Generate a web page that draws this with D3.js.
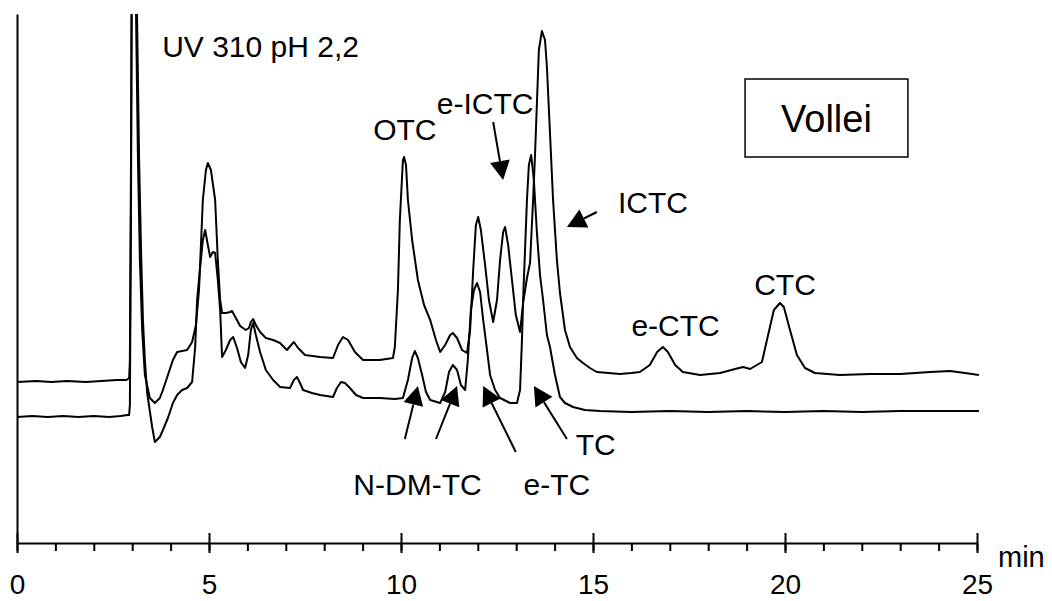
<!DOCTYPE html>
<html>
<head>
<meta charset="utf-8">
<script src="https://cdn.jsdelivr.net/npm/d3@7"></script>
<style>
  body { margin: 0; background: #fff; }
  svg { display: block; }
  text { font-family: "Liberation Sans", Arial, sans-serif; fill: #000; }
</style>
</head>
<body>
<div id="chart"></div>
<script>
// retention time (min), signal (arbitrary units)
const upperTrace = [
  [0.00,161],[0.5,162],[0.9,161],[1.3,162],[1.8,161],[2.2,162],[2.6,163],[2.85,163],
  [2.92,165],[2.94,183],[2.97,393],[2.99,593],[3.07,593],[3.10,529],[3.15,383],[3.20,283],
  [3.26,213],[3.33,168],[3.46,145],[3.59,140],[3.72,145],[3.80,153],[3.93,168],[4.06,183],
  [4.17,191],[4.30,192],[4.43,193],[4.56,201],[4.66,218],[4.74,253],[4.84,343],[4.92,373],
  [4.97,380],[5.05,373],[5.16,343],[5.23,283],[5.29,243],[5.34,230],[5.44,230],[5.55,231],
  [5.60,232],[5.70,225],[5.81,217],[5.96,213],[6.04,215],[6.09,221],[6.15,224],[6.22,218],
  [6.33,211],[6.48,205],[6.67,203],[6.85,200],[7.03,193],[7.14,198],[7.21,201],[7.32,195],
  [7.50,188],[7.89,186],[8.23,185],[8.36,198],[8.49,206],[8.62,203],[8.80,191],[9.01,183],
  [9.45,183],[9.79,185],[9.84,196],[9.92,253],[9.97,323],[10.05,383],[10.08,386],[10.13,378],
  [10.18,343],[10.29,303],[10.44,263],[10.60,238],[10.76,223],[10.91,203],[11.02,191],
  [11.15,198],[11.28,208],[11.35,210],[11.46,205],[11.59,193],[11.72,190],[11.80,213],
  [11.88,273],[11.95,318],[12.01,326],[12.08,313],[12.19,278],[12.29,243],[12.40,221],
  [12.50,243],[12.58,283],[12.66,311],[12.71,316],[12.79,298],[12.89,263],[12.99,228],
  [13.10,211],[13.18,240],[13.28,265],[13.36,280],[13.44,343],[13.49,388],[13.59,493],
  [13.67,512],[13.75,503],[13.80,476],[13.88,410],[13.96,343],[14.06,283],[14.14,250],
  [14.27,213],[14.40,196],[14.58,185],[14.74,180],[14.92,175],[15.10,171],[15.40,170],
  [15.70,169],[16.00,170],[16.22,171],[16.48,178],[16.67,191],[16.82,196],[16.95,191],
  [17.14,178],[17.34,171],[17.79,168],[18.31,170],[18.70,174],[18.91,176],[19.09,174],
  [19.40,181],[19.56,208],[19.71,233],[19.87,240],[19.97,236],[20.13,213],[20.31,188],
  [20.52,175],[20.78,170],[21.43,168],[22.21,169],[23.00,169],[23.78,171],[24.30,172],
  [24.69,170],[25.05,168]
];

const lowerTrace = [
  [0.00,126],[0.4,127],[0.8,126],[1.2,127],[1.6,126],[2.0,127],[2.4,126],[2.7,127],[2.88,128],
  [2.92,128],[2.94,138],[2.97,343],[2.99,593],[3.10,593],[3.125,529],[3.18,383],[3.23,293],
  [3.28,223],[3.33,183],[3.39,150],[3.52,116],[3.59,101],[3.72,106],[3.80,113],[3.93,125],
  [4.06,140],[4.17,148],[4.30,153],[4.43,155],[4.56,161],[4.64,196],[4.69,243],[4.77,276],
  [4.84,303],[4.90,313],[4.97,298],[5.03,286],[5.10,291],[5.16,290],[5.23,263],[5.29,233],
  [5.34,186],[5.44,193],[5.55,203],[5.63,206],[5.73,195],[5.83,181],[5.94,175],[6.02,188],
  [6.09,213],[6.15,220],[6.22,208],[6.33,191],[6.48,173],[6.67,163],[6.85,156],[7.11,155],
  [7.21,163],[7.29,166],[7.37,160],[7.45,153],[7.68,150],[7.89,148],[8.23,146],[8.33,155],
  [8.44,161],[8.54,160],[8.67,155],[8.83,148],[9.01,145],[9.45,145],[9.84,144],[10.05,145],
  [10.18,163],[10.29,185],[10.36,192],[10.44,185],[10.55,168],[10.65,151],[10.76,143],
  [11.02,140],[11.15,151],[11.25,171],[11.35,178],[11.46,173],[11.56,158],[11.67,153],
  [11.74,183],[11.82,233],[11.90,253],[11.98,260],[12.06,251],[12.14,223],[12.24,193],
  [12.32,168],[12.45,153],[12.58,145],[12.84,140],[13.02,140],[13.10,153],[13.15,203],
  [13.18,243],[13.28,343],[13.33,378],[13.39,388],[13.46,363],[13.54,310],[13.62,268],
  [13.70,243],[13.80,208],[13.88,196],[14.01,168],[14.14,146],[14.27,140],[14.48,136],
  [14.79,133],[15.18,132],[16.0,131],[17.0,132],[18.0,131],[19.0,132],[20.0,131],
  [21.0,132],[22.0,131],[23.0,132],[24.0,132],[25.05,132]
];

const majorTicks = [0, 5, 10, 15, 20, 25];
const minorTicks = d3.range(0, 26);

// peak labels: text, time, signal, anchor
const peakLabels = [
  ["OTC", 10.1, 403, "middle"],
  ["e-ICTC", 12.19, 429, "middle"],
  ["ICTC", 15.65, 330, "start"],
  ["e-CTC", 17.15, 207, "middle"],
  ["CTC", 20.0, 248, "middle"],
  ["TC", 15.07, 88, "middle"],
  ["N-DM-TC", 10.43, 48, "middle"],
  ["e-TC", 14.06, 48, "middle"]
];

// arrows: [tail time, tail signal, tip time, tip signal]
const arrows = [
  [12.40, 421, 12.66, 363],
  [15.10, 331, 14.32, 316],
  [10.10, 104, 10.44, 157],
  [10.91, 104, 11.46, 157],
  [12.99, 91, 12.14, 157],
  [14.32, 104, 13.46, 157]
];

const width = 1052, height = 601;

const x = d3.scaleLinear().domain([0, 25]).range([17, 977]);
const y = d3.scaleLinear().domain([0, 529]).range([543, 14]);

const svg = d3.select("#chart").append("svg")
  .attr("width", width)
  .attr("height", height);

svg.append("clipPath").attr("id", "plot-clip")
  .append("rect")
  .attr("x", x(0)).attr("y", y(529))
  .attr("width", x(25.2) - x(0)).attr("height", y(0) - y(529));

const line = d3.line()
  .x(d => x(d[0]))
  .y(d => y(d[1]));

const traces = svg.append("g").attr("clip-path", "url(#plot-clip)");
[upperTrace, lowerTrace].forEach(tr => {
  traces.append("path")
    .datum(tr)
    .attr("d", line)
    .attr("fill", "none")
    .attr("stroke", "#000")
    .attr("stroke-width", 2)
    .attr("stroke-linejoin", "round");
});

// y axis (no ticks)
svg.append("g")
  .attr("transform", `translate(${x(0)},0)`)
  .call(d3.axisLeft(y).tickValues([]).tickSizeOuter(0))
  .call(g => g.select(".domain").attr("stroke-width", 2));

// x axis, minor ticks
svg.append("g")
  .attr("transform", `translate(0,${y(0)})`)
  .call(d3.axisBottom(x).tickValues(minorTicks).tickSize(8).tickSizeOuter(0).tickFormat(""))
  .call(g => g.selectAll("line, path").attr("stroke-width", 2));

// x axis, major ticks + labels
const xMajor = svg.append("g")
  .attr("transform", `translate(0,${y(0)})`)
  .call(d3.axisBottom(x).tickValues(majorTicks).tickSizeInner(10).tickSizeOuter(0));
xMajor.select(".domain").remove();
xMajor.selectAll(".tick line").attr("y1", -10).attr("stroke-width", 2);
xMajor.selectAll(".tick text")
  .attr("y", 51).attr("dy", 0)
  .style("font-size", "28px")
  .style("font-family", "'Liberation Sans', Arial, sans-serif")
  .attr("fill", "#000");

svg.append("text")
  .attr("x", 998).attr("y", 567)
  .style("font-size", "29px")
  .text("min");

// header label
svg.append("text")
  .attr("x", x(3.78)).attr("y", y(486))
  .style("font-size", "30px")
  .text("UV 310 pH 2,2");

// peak labels
svg.append("g").selectAll("text")
  .data(peakLabels)
  .join("text")
  .attr("x", d => x(d[1]))
  .attr("y", d => y(d[2]))
  .attr("text-anchor", d => d[3])
  .style("font-size", "30px")
  .text(d => d[0]);

// arrows
const headLen = 19, headHalf = 10;
const ga = svg.append("g");
arrows.forEach(a => {
  const x0 = x(a[0]), y0 = y(a[1]), x1 = x(a[2]), y1 = y(a[3]);
  const dx = x1 - x0, dy = y1 - y0, len = Math.hypot(dx, dy);
  const ux = dx / len, uy = dy / len;
  const bx = x1 - ux * headLen, by = y1 - uy * headLen;
  ga.append("line")
    .attr("x1", x0).attr("y1", y0).attr("x2", bx).attr("y2", by)
    .attr("stroke", "#000").attr("stroke-width", 2);
  ga.append("polygon")
    .attr("points", [
      [x1, y1],
      [bx - uy * headHalf, by + ux * headHalf],
      [bx + uy * headHalf, by - ux * headHalf]
    ].map(p => p.join(",")).join(" "))
    .attr("fill", "#000");
});

// sample box
const box = svg.append("g");
box.append("rect")
  .attr("x", x(18.96)).attr("y", y(464))
  .attr("width", x(23.2) - x(18.96)).attr("height", y(386) - y(464))
  .attr("fill", "#fff").attr("stroke", "#000").attr("stroke-width", 1.5);
box.append("text")
  .attr("x", (x(18.96) + x(23.2)) / 2).attr("y", y(411))
  .attr("text-anchor", "middle")
  .style("font-size", "38px")
  .text("Vollei");
</script>
</body>
</html>
